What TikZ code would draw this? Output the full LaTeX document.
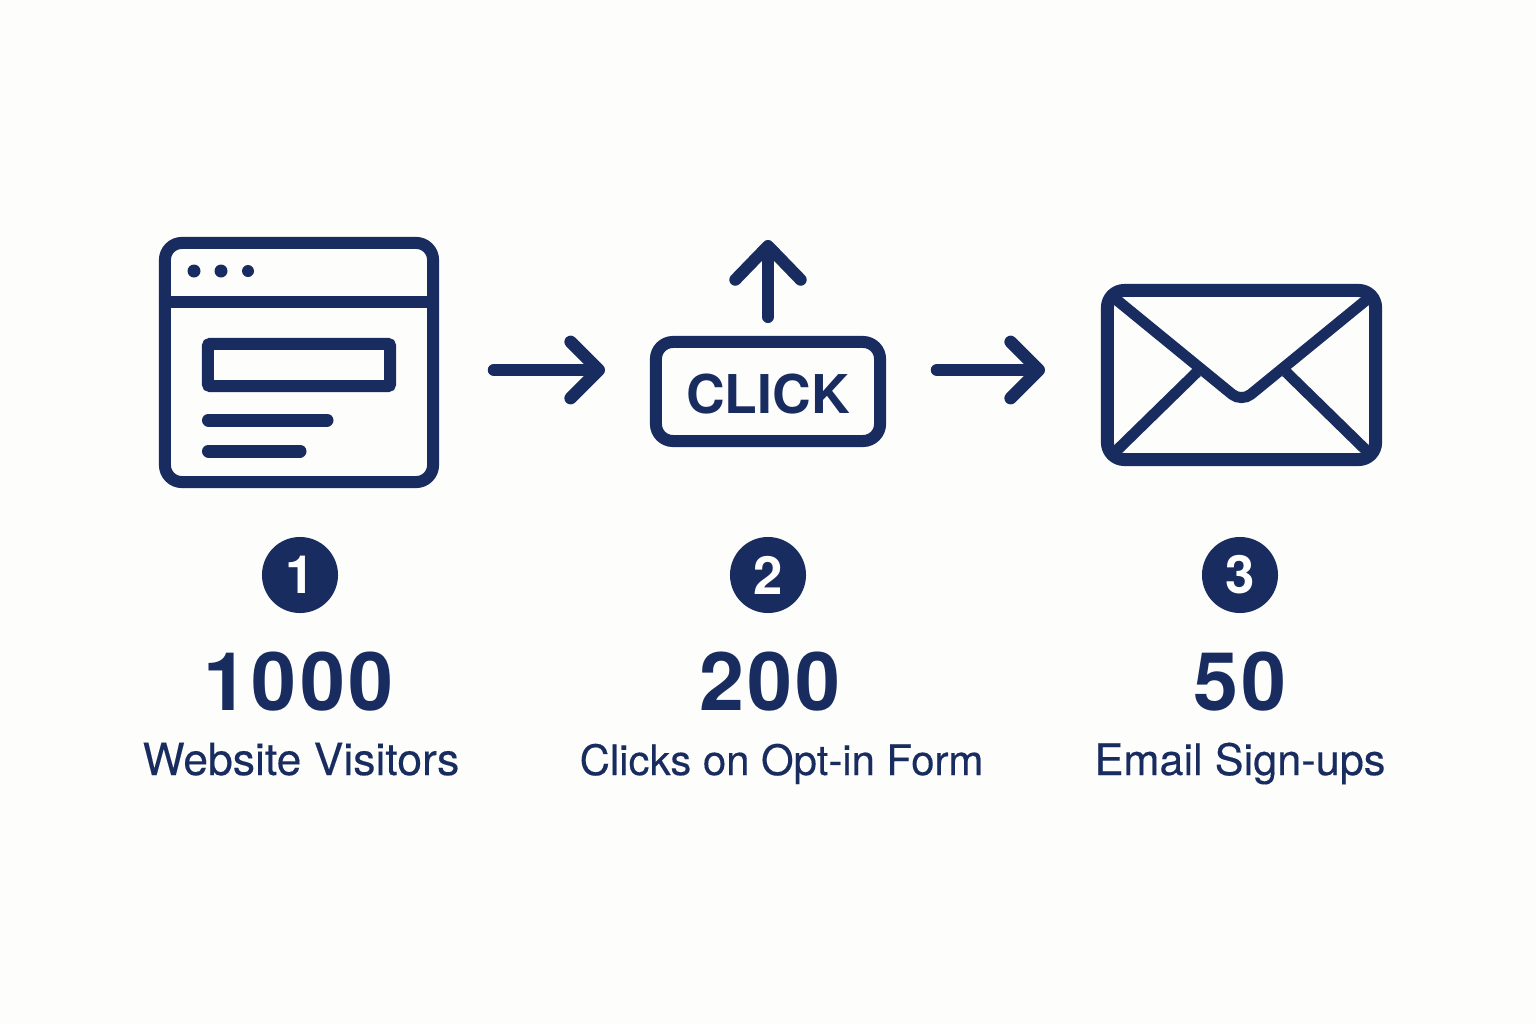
\documentclass[tikz,border=0pt]{standalone}
\usepackage{fontspec}
\setmainfont{TeX Gyre Heros}
\newfontfamily\labelfont[FakeBold=.25]{TeX Gyre Heros}
\usetikzlibrary{arrows.meta}

\definecolor{navy}{HTML}{182C5F}
\definecolor{paper}{HTML}{FDFDFB}

\tikzset{
  icon/.style={draw=navy, line width=.12cm, rounded corners=.17cm, inner sep=0pt},
  bar/.style={draw=navy, line width=.13cm, line cap=round},
  fold/.style={draw=navy, line width=.11cm},
  flow/.style={draw=navy, line width=.125cm, line cap=round,
    -{Straight Barb[length=8pt,width=16pt,round]}},
  flowup/.style={draw=navy, line width=.12cm, line cap=round,
    -{Straight Barb[length=9.6pt,width=18.6pt,round]}},
  badge/.style={circle, fill=navy, text=white, minimum size=.76cm, inner sep=0pt,
    font=\fontsize{15pt}{15pt}\selectfont\bfseries},
  count/.style={anchor=base, text=navy, inner sep=0pt,
    font=\fontsize{23pt}{23pt}\selectfont\bfseries\addfontfeature{LetterSpace=4}},
  caption/.style={anchor=base, text=navy, inner sep=0pt,
    font=\fontsize{12pt}{12pt}\labelfont}
}

\begin{document}
\begin{tikzpicture}[x=.01cm,y=-.01cm]
\fill[paper] (0,0) rectangle (1536,1024);
\useasboundingbox (0,0) rectangle (1536,1024);

% browser window
\node[icon, minimum width=2.68cm, minimum height=2.39cm] (window) at (299,362.5) {};
\draw[navy, line width=.12cm] (window.west |- 0,302) -- (window.east |- 0,302);
\fill[navy] (194,271) circle (6.5);
\fill[navy] (221,271) circle (6.5);
\fill[navy] (248,271) circle (6);
\node[icon, rounded corners=.02cm, minimum width=1.82cm, minimum height=.42cm] (field) at (299,365) {};
\coordinate (lineaw) at (208.5,420);
\coordinate (lineae) at (327,420);
\coordinate (linebw) at (208.5,451);
\coordinate (linebe) at (300,451);
\draw[bar] (lineaw) -- (lineae);
\draw[bar] (linebw) -- (linebe);

% click button
\node[icon, minimum width=2.24cm, minimum height=.99cm] (button) at (768,391.5) {};
\node[anchor=base, inner sep=0pt, text=navy,
  font=\fontsize{15.2pt}{15.2pt}\selectfont\bfseries] (clicktext) at (768,413) {CLICK};
\coordinate (upstart) at (768,317);
\coordinate (uptip) at (768,240);
\draw[flowup] (upstart) -- (uptip);

% envelope
\node[icon, line width=.13cm, minimum width=2.68cm, minimum height=1.69cm] (envelope) at (1241.5,375) {};
\coordinate (flapw) at (1110,294.5);
\coordinate (flape) at (1373,294.5);
\draw[fold, rounded corners=.12cm] (flapw) -- (1241.5,402) -- (flape);
\coordinate (foldw) at (1197,372);
\coordinate (folde) at (1286,372);
\coordinate (cornerw) at (1110,457);
\coordinate (cornere) at (1373,457);
\draw[fold] (foldw) -- (cornerw);
\draw[fold] (folde) -- (cornere);

% arrows between the icons
\coordinate (arrowaw) at (494,370);
\coordinate (arrowae) at (605,370);
\coordinate (arrowbw) at (937,370);
\coordinate (arrowbe) at (1045,370);
\draw[flow] (arrowaw) -- (arrowae);
\draw[flow] (arrowbw) -- (arrowbe);

% numbered steps
\node[badge] (badgea) at (300,575) {1};
\node[badge] (badgeb) at (768,575) {2};
\node[badge] (badgec) at (1240,575) {3};

% counts
\node[count] (counta) at (298.5,710) {1000};
\node[count] (countb) at (770,710) {200};
\node[count] (countc) at (1240,710) {50};

% captions
\node[caption, font=\fontsize{12.65pt}{12.65pt}\labelfont] (captiona) at (301,775) {Website Visitors};
\node[caption, font=\fontsize{11.9pt}{11.9pt}\labelfont] (captionb) at (781.5,775) {Clicks on Opt-in Form};
\node[caption, font=\fontsize{12.3pt}{12.3pt}\labelfont] (captionc) at (1240,775) {Email Sign-ups};
\end{tikzpicture}
\end{document}
